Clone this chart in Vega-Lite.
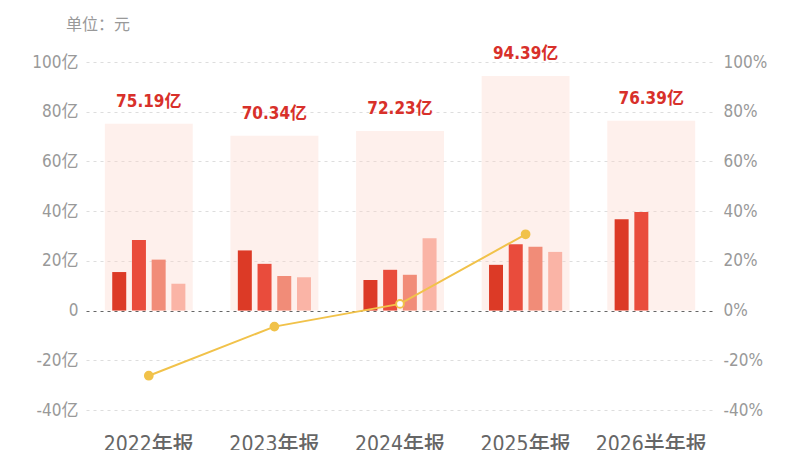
{
  "$schema": "https://vega.github.io/schema/vega-lite/v6.json",
  "description": "Quarterly and annual revenue with year-over-year growth",
  "autosize": {"type": "none"},
  "width": 628,
  "height": 348,
  "padding": {"left": 86, "top": 62, "right": 86, "bottom": 40},
  "background": "#ffffff",
  "title": {
    "text": "单位：元",
    "anchor": "start",
    "frame": "group",
    "dx": -20,
    "offset": 12,
    "fontSize": 16,
    "fontWeight": "normal",
    "color": "#999999",
    "font": "Noto Sans CJK SC"
  },
  "datasets": {
    "totals": [
      {"period": "2022年报", "total": 75.19, "label": "75.19亿"},
      {"period": "2023年报", "total": 70.34, "label": "70.34亿"},
      {"period": "2024年报", "total": 72.23, "label": "72.23亿"},
      {"period": "2025年报", "total": 94.39, "label": "94.39亿"},
      {"period": "2026半年报", "total": 76.39, "label": "76.39亿"}
    ],
    "quarters": [
      {"period": "2022年报", "q": "Q1", "value": 15.5},
      {"period": "2022年报", "q": "Q2", "value": 28.4},
      {"period": "2022年报", "q": "Q3", "value": 20.5},
      {"period": "2022年报", "q": "Q4", "value": 10.8},
      {"period": "2023年报", "q": "Q1", "value": 24.2},
      {"period": "2023年报", "q": "Q2", "value": 18.8},
      {"period": "2023年报", "q": "Q3", "value": 13.9},
      {"period": "2023年报", "q": "Q4", "value": 13.4},
      {"period": "2024年报", "q": "Q1", "value": 12.3},
      {"period": "2024年报", "q": "Q2", "value": 16.4},
      {"period": "2024年报", "q": "Q3", "value": 14.4},
      {"period": "2024年报", "q": "Q4", "value": 29.1},
      {"period": "2025年报", "q": "Q1", "value": 18.4},
      {"period": "2025年报", "q": "Q2", "value": 26.7},
      {"period": "2025年报", "q": "Q3", "value": 25.7},
      {"period": "2025年报", "q": "Q4", "value": 23.6},
      {"period": "2026半年报", "q": "Q1", "value": 36.7},
      {"period": "2026半年报", "q": "Q2", "value": 39.7}
    ],
    "growth": [
      {"period": "2022年报", "rate": -26.2},
      {"period": "2023年报", "rate": -6.45},
      {"period": "2024年报", "rate": 2.69},
      {"period": "2025年报", "rate": 30.68}
    ]
  },
  "encoding": {
    "x": {
      "field": "period",
      "type": "nominal",
      "sort": null,
      "scale": {
        "domain": ["2022年报", "2023年报", "2024年报", "2025年报", "2026半年报"],
        "paddingInner": 0.3,
        "paddingOuter": 0.15
      },
      "axis": {
        "title": null,
        "domain": false,
        "ticks": false,
        "labelAngle": 0,
        "labelFontSize": 21,
        "labelFont": "DejaVu Sans Condensed, Noto Sans CJK SC",
        "labelFontWeight": 500,
        "labelColor": "#666666",
        "labelBaseline": "top",
        "labelPadding": 23
      }
    }
  },
  "layer": [
    {
      "layer": [
        {
          "data": {"name": "totals"},
          "mark": {"type": "bar", "color": "#fbd3c8", "opacity": 0.35},
          "encoding": {
            "y": {
              "field": "total",
              "type": "quantitative",
              "scale": {"domain": [-40, 100], "nice": false},
              "axis": {
                "title": null,
                "values": [-40, -20, 0, 20, 40, 60, 80, 100],
                "labelExpr": "datum.value == 0 ? '0' : datum.value + '亿'",
                "domain": false,
                "ticks": false,
                "labelFontSize": 17,
                "labelFont": "DejaVu Sans Condensed, Noto Sans CJK SC",
                "labelColor": "#999999",
                "labelPadding": 8,
                "gridDash": [3, 4],
                "gridColor": {"expr": "datum.value == 0 ? '#666666' : '#dddddd'"},
                "gridWidth": {"expr": "datum.value == 0 ? 1.2 : 1"},
                "zindex": 0
              }
            }
          }
        },
        {
          "data": {"name": "totals"},
          "mark": {
            "type": "text",
            "dy": -22,
            "fontSize": 17,
            "fontWeight": "bold",
            "font": "DejaVu Sans Condensed, Noto Sans CJK SC",
            "color": "#d8302a"
          },
          "encoding": {
            "y": {"field": "total", "type": "quantitative"},
            "text": {"field": "label"}
          }
        },
        {
          "data": {"name": "quarters"},
          "mark": {"type": "bar", "width": 14},
          "encoding": {
            "xOffset": {
              "field": "q",
              "type": "nominal",
              "scale": {"domain": ["Q1", "Q2", "Q3", "Q4"], "paddingInner": 0.3, "paddingOuter": 0.38}
            },
            "y": {"field": "value", "type": "quantitative"},
            "color": {
              "field": "q",
              "type": "nominal",
              "scale": {"domain": ["Q1", "Q2", "Q3", "Q4"], "range": ["#dc3a26", "#e94c3c", "#f18c78", "#fab4a6"]},
              "legend": null
            }
          }
        }
      ]
    },
    {
      "data": {"name": "growth"},
      "layer": [
        {
          "mark": {"type": "line", "color": "#f1c24a", "strokeWidth": 2},
          "encoding": {
            "y": {
              "field": "rate",
              "type": "quantitative",
              "scale": {"domain": [-40, 100], "nice": false},
              "axis": {
                "title": null,
                "orient": "right",
                "values": [-40, -20, 0, 20, 40, 60, 80, 100],
                "labelExpr": "datum.value + '%'",
                "grid": false,
                "domain": false,
                "ticks": false,
                "labelFontSize": 17,
                "labelFont": "DejaVu Sans Condensed, Noto Sans CJK SC",
                "labelColor": "#999999",
                "labelPadding": 9
              }
            }
          }
        },
        {
          "mark": {"type": "point", "filled": false, "size": 60, "strokeWidth": 2, "color": "#f1c24a", "opacity": 1},
          "encoding": {
            "y": {"field": "rate", "type": "quantitative"},
            "fill": {
              "condition": {"test": "datum.period == '2024年报'", "value": "#ffffff"},
              "value": "#f1c24a"
            }
          }
        }
      ]
    }
  ],
  "resolve": {"scale": {"y": "independent"}, "axis": {"y": "independent"}},
  "config": {
    "view": {"stroke": null}
  }
}
